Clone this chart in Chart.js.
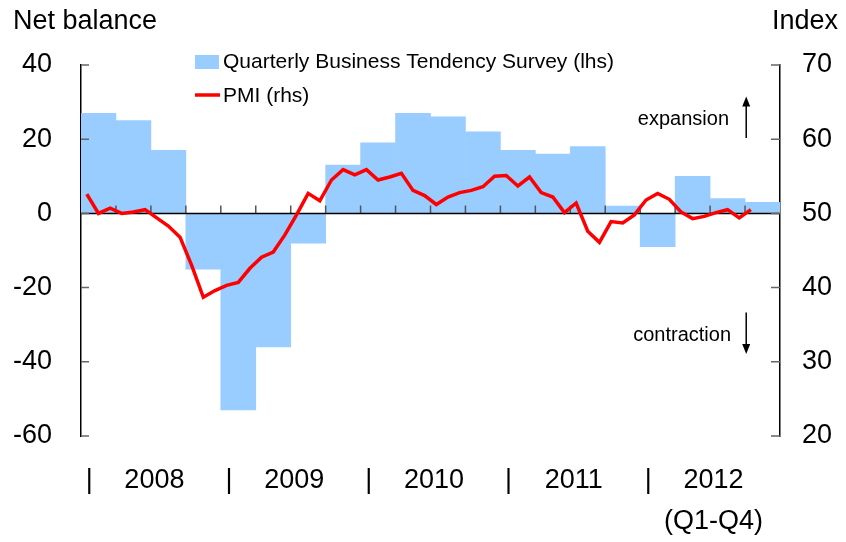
<!DOCTYPE html>
<html>
<head>
<meta charset="utf-8">
<script src="https://cdn.jsdelivr.net/npm/chart.js@4.4.1/dist/chart.umd.min.js"></script>
<style>
  html, body { margin: 0; padding: 0; background: #fff; }
  canvas { display: block; }
</style>
</head>
<body>
<canvas id="chart" width="846" height="542"></canvas>
<script>
// Quarterly Business Tendency Survey, net balance (lhs), 2008 Q1 - 2012 Q4
const quarters = [
  '2008 Q1', '2008 Q2', '2008 Q3', '2008 Q4',
  '2009 Q1', '2009 Q2', '2009 Q3', '2009 Q4',
  '2010 Q1', '2010 Q2', '2010 Q3', '2010 Q4',
  '2011 Q1', '2011 Q2', '2011 Q3', '2011 Q4',
  '2012 Q1', '2012 Q2', '2012 Q3', '2012 Q4'
];
const surveyBalance = [27, 25, 17, -15, -53, -36, -8, 13, 19, 27, 26, 22, 17, 16, 18, 2, -9, 10, 4, 3];

// PMI (rhs), monthly, Jan 2008 - Oct 2012
const pmiIndex = [
  52.6, 50.0, 50.7, 50.0, 50.2, 50.5, 49.4, 48.3, 46.8, 43.0, 38.7, 39.6,
  40.3, 40.7, 42.6, 44.1, 44.8, 47.1, 49.8, 52.7, 51.7, 54.5, 55.9, 55.2,
  55.9, 54.5, 54.9, 55.4, 53.1, 52.4, 51.2, 52.2, 52.8, 53.1, 53.6, 55.0,
  55.1, 53.7, 54.9, 52.8, 52.2, 50.1, 51.4, 47.6, 46.1, 48.9, 48.7, 49.8,
  51.8, 52.7, 51.9, 50.2, 49.3, 49.6, 50.1, 50.5, 49.4, 50.5
];

const years = ['2008', '2009', '2010', '2011', '2012'];
const lastYearNote = '(Q1-Q4)';

const seriesNames = ['Quarterly Business Tendency Survey (lhs)', 'PMI (rhs)'];
const barColor = '#99ccff';
const lineColor = '#ff0000';
const FONT = "'Liberation Sans', Arial, sans-serif";

// x axis runs in months: quarter k covers [3k, 3k+3], month i sits at i + 0.5
const barData = surveyBalance.map((v, k) => ({ x: 3 * k + 1.5, y: v }));
const lineData = pmiIndex.map((v, i) => ({ x: i + 0.5, y: v }));

const decor = {
  id: 'decor',
  afterDatasetDraw(chart, args) {
    if (args.index !== 0) return;
    // zero line with small upward ticks at each quarter boundary
    const { ctx, chartArea: a } = chart;
    const x = chart.scales.x;
    const y0 = chart.scales.y.getPixelForValue(0);
    ctx.save();
    ctx.strokeStyle = '#555';
    ctx.lineWidth = 1.5;
    ctx.beginPath();
    for (let k = 1; k < quarters.length; k++) {
      const px = x.getPixelForValue(3 * k);
      ctx.moveTo(px, y0 - 8);
      ctx.lineTo(px, y0);
    }
    ctx.stroke();
    ctx.strokeStyle = '#000';
    ctx.beginPath();
    ctx.moveTo(a.left, y0);
    ctx.lineTo(a.right, y0);
    ctx.stroke();
    ctx.restore();
  },
  afterDraw(chart) {
    const { ctx, chartArea: a, scales } = chart;
    ctx.save();

    // inward tick marks on both value axes
    ctx.strokeStyle = '#666';
    ctx.lineWidth = 1.5;
    ctx.beginPath();
    scales.y.ticks.forEach(t => {
      const py = scales.y.getPixelForValue(t.value);
      ctx.moveTo(a.left, py);
      ctx.lineTo(a.left + 8, py);
    });
    scales.y2.ticks.forEach(t => {
      const py = scales.y2.getPixelForValue(t.value);
      ctx.moveTo(a.right - 9, py);
      ctx.lineTo(a.right, py);
    });
    ctx.stroke();

    // axis titles
    ctx.fillStyle = '#000';
    ctx.font = '27px ' + FONT;
    ctx.textBaseline = 'alphabetic';
    ctx.textAlign = 'left';
    ctx.fillText('Net balance', 13, 29);
    ctx.textAlign = 'right';
    ctx.fillText('Index', 838, 29);

    // legend
    ctx.font = '21px ' + FONT;
    ctx.textAlign = 'left';
    ctx.textBaseline = 'middle';
    ctx.fillStyle = barColor;
    ctx.fillRect(195, 55, 24, 14);
    ctx.fillStyle = '#000';
    ctx.fillText(seriesNames[0], 223, 62);
    ctx.strokeStyle = lineColor;
    ctx.lineWidth = 3.5;
    ctx.beginPath();
    ctx.moveTo(195, 95);
    ctx.lineTo(220, 95);
    ctx.stroke();
    ctx.fillText(seriesNames[1], 223, 96);

    // expansion / contraction notes
    const ax = scales.x.getPixelForValue(57.1);
    ctx.font = '20px ' + FONT;
    ctx.textAlign = 'right';
    ctx.fillText('expansion', 729, scales.y.getPixelForValue(25.2));
    ctx.fillText('contraction', 731, scales.y.getPixelForValue(-32.8));
    const arrow = (yFrom, yTo) => {
      const p1 = scales.y.getPixelForValue(yFrom);
      const p2 = scales.y.getPixelForValue(yTo);
      const dir = p2 < p1 ? 1 : -1;
      ctx.strokeStyle = '#000';
      ctx.lineWidth = 1.5;
      ctx.beginPath();
      ctx.moveTo(ax, p1);
      ctx.lineTo(ax, p2 + dir * 8);
      ctx.stroke();
      ctx.beginPath();
      ctx.moveTo(ax, p2);
      ctx.lineTo(ax - 4, p2 + dir * 10);
      ctx.lineTo(ax + 4, p2 + dir * 10);
      ctx.closePath();
      ctx.fill();
    };
    arrow(20.3, 31.5);
    arrow(-26.7, -37.9);

    ctx.restore();
  }
};

new Chart(document.getElementById('chart'), {
  data: {
    datasets: [{
      type: 'bar',
      label: seriesNames[0],
      data: barData,
      backgroundColor: barColor,
      borderWidth: 0,
      categoryPercentage: 1,
      barPercentage: 1,
      yAxisID: 'y',
      order: 2
    }, {
      type: 'line',
      label: seriesNames[1],
      data: lineData,
      borderColor: lineColor,
      borderWidth: 3.5,
      pointRadius: 0,
      tension: 0,
      fill: false,
      yAxisID: 'y2',
      order: 1
    }]
  },
  options: {
    responsive: false,
    animation: false,
    devicePixelRatio: 1,
    layout: { padding: { top: 65, left: 0, right: 0, bottom: 0 } },
    plugins: {
      legend: { display: false },
      tooltip: { enabled: false }
    },
    scales: {
      x: {
        type: 'linear',
        position: 'bottom',
        offset: false,
        min: 0,
        max: 60,
        grid: { display: false, drawTicks: false, offset: false },
        border: { display: false },
        afterBuildTicks: scale => {
          const ticks = [];
          years.forEach((yr, k) => {
            ticks.push({ value: 12 * k + 0.7 });
            ticks.push({ value: 12 * k + 6.3 });
          });
          scale.ticks = ticks;
        },
        afterFit: scale => { scale.height = 106; },
        ticks: {
          autoSkip: false,
          maxRotation: 0,
          padding: 24,
          color: '#000',
          font: { family: FONT, size: 27, lineHeight: 1.52 },
          callback: (value, i) => {
            if (i % 2 === 0) return '|';
            const k = (i - 1) / 2;
            return k === years.length - 1 ? [years[k], lastYearNote] : years[k];
          }
        }
      },
      y: {
        position: 'left',
        min: -60,
        max: 40,
        grid: { display: false, drawTicks: false },
        border: { display: true, color: '#000', width: 1.5 },
        afterFit: scale => { scale.width = 81; },
        ticks: {
          stepSize: 20,
          padding: 29,
          color: '#000',
          font: { family: FONT, size: 27 }
        }
      },
      y2: {
        position: 'right',
        min: 20,
        max: 70,
        grid: { display: false, drawTicks: false },
        border: { display: true, color: '#000', width: 1.5 },
        afterFit: scale => { scale.width = 66; },
        ticks: {
          stepSize: 10,
          padding: 22,
          color: '#000',
          font: { family: FONT, size: 27 }
        }
      }
    }
  },
  plugins: [decor]
});
</script>
</body>
</html>
